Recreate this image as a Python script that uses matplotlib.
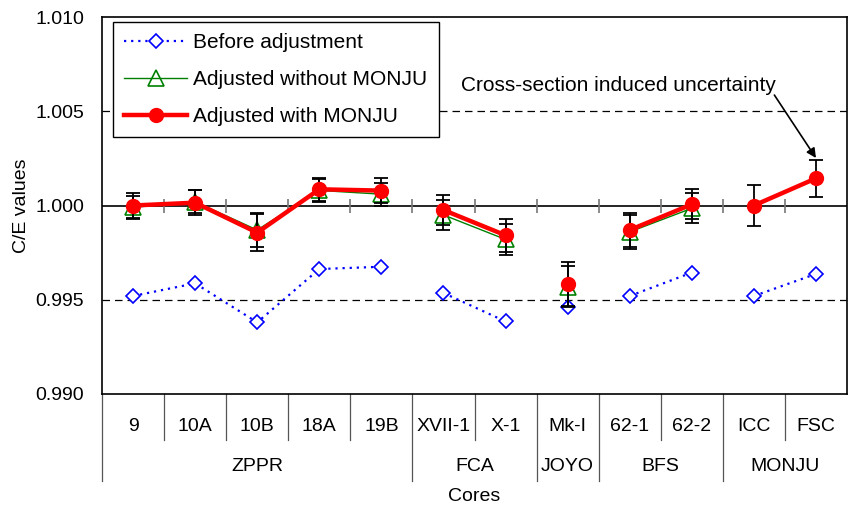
import numpy as np
import matplotlib
matplotlib.use("Agg")
import matplotlib.pyplot as plt
from matplotlib import transforms

plt.rcParams['font.family'] = ['Liberation Sans', 'DejaVu Sans']
plt.rcParams['font.size'] = 14

cores = ['9', '10A', '10B', '18A', '19B', 'XVII-1', 'X-1', 'Mk-I', '62-1', '62-2', 'ICC', 'FSC']
groups = ['ZPPR', 'FCA', 'JOYO', 'BFS', 'MONJU']
group_sizes = [5, 2, 1, 2, 2]

before = [0.99520, 0.99587, 0.99380, 0.99663, 0.99675, 0.99536, 0.99385, 0.99459,
          0.99520, 0.99644, 0.99520, 0.99637]
adj_wo = [0.99990, 1.00020, 0.99870, 1.00080, 1.00060, 0.99950, 0.99820, 0.99570,
          0.99860, 0.99985, np.nan, np.nan]
adj_wo_err = [0.00060, 0.00060, 0.00090, 0.00060, 0.00060, 0.00080, 0.00080, 0.00110,
              0.00090, 0.00080, np.nan, np.nan]
adj_w = [1.00000, 1.00015, 0.99856, 1.00086, 1.00079, 0.99976, 0.99842, 0.99584,
         0.99870, 1.00006, 1.00000, 1.00144]
adj_w_err = [0.00065, 0.00068, 0.00100, 0.00060, 0.00066, 0.00082, 0.00088, 0.00116,
             0.00091, 0.00080, 0.00110, 0.00100]

fig = plt.figure(figsize=(8.48, 5.08), dpi=100)
ax = fig.add_axes([102/848, 1-394/508, 745/848, 377/508])

x = np.arange(len(cores))
bounds = np.cumsum([0] + group_sizes)

for gi in range(len(groups)):
    s = slice(bounds[gi], bounds[gi+1])
    ax.plot(x[s], np.array(before)[s], linestyle=(0, (1, 2.2)), lw=1.6, color='#0000FF',
            marker='D', ms=7.5, mfc='white', mec='#0000FF', mew=1.2, zorder=3,
            label='Before adjustment' if gi == 0 else None)
    ax.plot(x[s], np.array(adj_wo)[s], '-', lw=1.0, color='#008000',
            marker='^', ms=11.5, mfc='none', mec='#008000', mew=1.2, zorder=4,
            label='Adjusted without MONJU' if gi == 0 else None)
    ax.plot(x[s], np.array(adj_w)[s], '-', lw=3.2, color='#FF0000',
            marker='o', ms=10, mfc='#FF0000', mec='#FF0000', zorder=6,
            label='Adjusted with MONJU' if gi == 0 else None)

ax.errorbar(x, adj_wo, yerr=adj_wo_err, fmt='none', ecolor='black', elinewidth=1.3,
            capsize=5, capthick=1.3, zorder=5)
ax.errorbar(x, adj_w, yerr=adj_w_err, fmt='none', ecolor='black', elinewidth=1.3,
            capsize=5, capthick=1.3, zorder=5)

ax.set_xlim(-0.5, len(cores) - 0.5)
ax.set_ylim(0.990, 1.010)
ax.set_yticks([0.990, 0.995, 1.000, 1.005, 1.010])
ax.set_yticklabels(['%.3f' % v for v in [0.990, 0.995, 1.000, 1.005, 1.010]])
ax.tick_params(axis='y', length=0, pad=13)
ax.set_xticks([])

for yv in [0.995, 1.005]:
    ax.axhline(yv, color='black', lw=0.9, ls=(0, (6, 4)), zorder=1)
ax.axhline(1.000, color='black', lw=1.2, zorder=1)
ax.plot(np.arange(1, len(cores)) - 0.5, np.full(len(cores) - 1, 1.0), ls='none',
        marker='|', ms=10, mew=1.2, color='#777777', zorder=1)

for sp in ax.spines.values():
    sp.set_color('black')
    sp.set_linewidth(1.2)

ax.set_ylabel('C/E values')
ax.yaxis.set_label_coords(-0.096, 0.5)

# category table below the axis
trans = transforms.blended_transform_factory(ax.transData, ax.transAxes)
for i, c in enumerate(cores):
    ax.text(i, -0.085, c, transform=trans, ha='center', va='center')
for b in range(len(cores)):
    edge = b - 0.5
    bottom = -0.2308 if b in bounds else -0.122
    ax.plot([edge, edge], [0, bottom], transform=trans, color='#555555', lw=0.9,
            clip_on=False)
for gi, g in enumerate(groups):
    ax.text((bounds[gi] + bounds[gi+1] - 1) / 2, -0.191, g, transform=trans,
            ha='center', va='center')
ax.text(0.5, -0.2706, 'Cores', transform=ax.transAxes, ha='center', va='center')

ax.text(7.82, 1.00634, 'Cross-section induced uncertainty', ha='center', va='center',
        fontsize=15)
ax.annotate('', xy=(11.0, 1.00252), xytext=(10.33, 1.00586),
            arrowprops=dict(arrowstyle='-|>', color='black', lw=1.2,
                            mutation_scale=14, shrinkA=0, shrinkB=0))

leg = ax.legend(loc='upper left', bbox_to_anchor=(0.0147, 0.9867), frameon=True,
                fancybox=False, edgecolor='black', framealpha=1, handlelength=3.0,
                labelspacing=0.85, borderpad=0.55, handletextpad=0.3, borderaxespad=0,
                fontsize=15)
leg.get_frame().set_linewidth(1.0)
leg.set_zorder(10)

fig.savefig('out.png', dpi=100)
